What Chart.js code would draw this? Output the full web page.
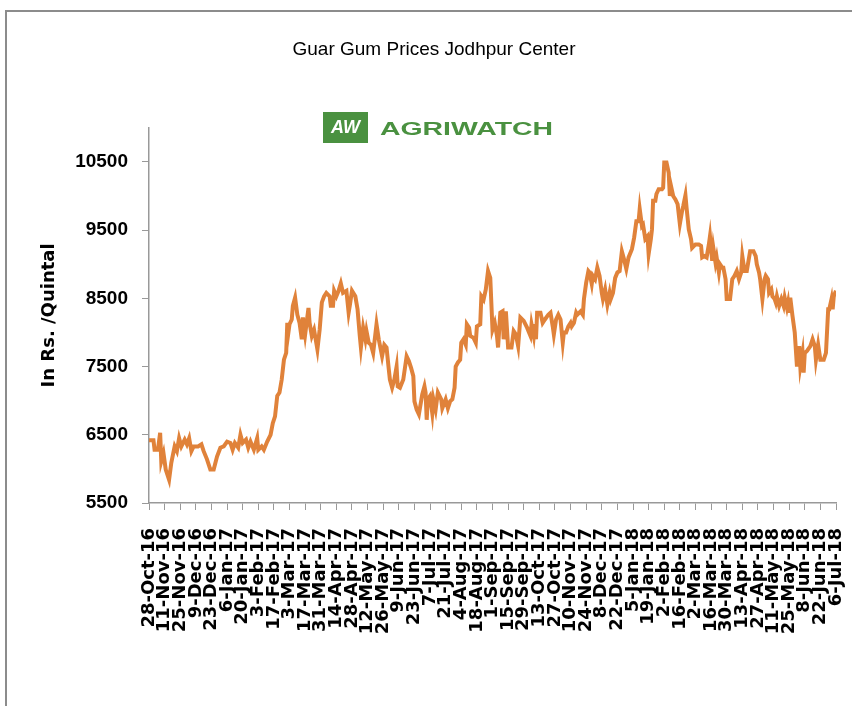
<!DOCTYPE html>
<html>
<head>
<meta charset="utf-8">
<script src="https://cdn.jsdelivr.net/npm/chart.js@4"></script>
<style>
  html, body { margin: 0; padding: 0; background: #fff; overflow: hidden; }
  #frame { position: absolute; left: 5px; top: 10px; width: 900px; height: 760px; border-left: 2px solid #8c8c8c; border-top: 2px solid #8c8c8c; }
  #myChart { position: absolute; left: 0; top: 0; }
</style>
</head>
<body>
<div id="frame"></div>
<canvas id="myChart" width="852" height="706"></canvas>
<script>
// days counted from 28-Oct-16
var days = [0, 4, 5, 8, 10, 11, 13, 15, 18, 20, 23, 25, 27, 29, 32, 34, 36, 38, 40, 44,
  47, 49, 52, 55, 58, 61, 64, 67, 70, 73, 75, 77, 80, 82, 84, 87, 89, 91, 94, 97,
  98, 101, 103, 106, 109, 111, 113, 115, 117, 119, 121, 123, 124, 125, 126, 128, 129, 131, 133, 135,
  137, 138, 140, 143, 144, 146, 148, 151, 153, 155, 157, 159, 162, 163, 165, 166, 168, 170, 172, 174,
  177, 179, 180, 182, 185, 187, 189, 190, 192, 194, 195, 197, 199, 201, 204, 206, 209, 211, 213, 215,
  216, 218, 220, 222, 223, 225, 228, 231, 233, 235, 237, 238, 240, 242, 245, 247, 248, 249, 250, 252,
  254, 255, 257, 259, 262, 263, 266, 268, 270, 272, 274, 275, 277, 279, 280, 282, 284, 285, 287, 288,
  291, 293, 294, 297, 298, 300, 302, 304, 306, 308, 310, 312, 313, 315, 317, 318, 320, 322, 325, 327,
  329, 331, 333, 336, 339, 342, 343, 345, 346, 347, 348, 351, 353, 355, 358, 360, 362, 363, 365, 367,
  369, 371, 372, 374, 376, 378, 379, 381, 383, 384, 387, 389, 390, 392, 394, 395, 397, 398, 400, 402,
  404, 406, 407, 409, 411, 413, 414, 416, 418, 420, 422, 424, 426, 428, 430, 433, 435, 437, 439, 440,
  442, 443, 445, 447, 448, 450, 451, 452, 454, 455, 457, 460, 461, 462, 464, 466, 467, 468, 470, 472,
  474, 476, 478, 479, 481, 482, 484, 486, 487, 490, 493, 495, 496, 498, 500, 502, 503, 505, 506, 508,
  509, 511, 512, 514, 515, 517, 518, 521, 523, 525, 527, 529, 531, 532, 534, 536, 539, 542, 544, 545,
  547, 548, 550, 552, 553, 555, 556, 558, 559, 561, 562, 563, 565, 567, 569, 570, 572, 573, 574, 575,
  577, 579, 580, 581, 582, 583, 584, 586, 587, 588, 590, 593, 595, 597, 598, 600, 602, 605, 607, 609,
  610, 612, 613, 614, 616];

var prices = [6420, 6420, 6280, 6280, 6530, 6110, 6230, 5990, 5840, 6090, 6330, 6260, 6450, 6330, 6430, 6360, 6450, 6260, 6330, 6330,
  6360, 6260, 6140, 5990, 5990, 6180, 6310, 6330, 6400, 6380, 6280, 6380, 6310, 6500, 6380, 6430, 6310, 6400, 6280, 6450,
  6280, 6330, 6280, 6400, 6500, 6670, 6770, 7070, 7120, 7310, 7600, 7700, 8140, 8000, 8120, 8190, 8390, 8510, 8260, 8140,
  7900, 8220, 7970, 8360, 8140, 7950, 8040, 7750, 8040, 8440, 8530, 8580, 8530, 8390, 8390, 8610, 8530, 8610, 8720, 8580,
  8610, 8290, 8390, 8610, 8530, 8340, 7950, 7780, 8070, 7900, 8020, 7850, 7820, 7700, 8120, 7900, 7650, 7820, 7780, 7460,
  7310, 7190, 7310, 7500, 7210, 7190, 7310, 7650, 7580, 7480, 7360, 6990, 6870, 6800, 7090, 7210, 7120, 6720, 7020, 7070,
  6820, 7020, 6870, 7120, 7020, 6890, 7020, 6890, 6990, 7020, 7190, 7500, 7560, 7600, 7850, 7900, 7820, 8120, 8070, 7950,
  7920, 7850, 8090, 8120, 8530, 8480, 8630, 8900, 8800, 8040, 8140, 7950, 7780, 8290, 8310, 7900, 8310, 7780, 7780, 8020,
  7970, 7800, 8220, 8170, 8070, 7950, 8120, 7950, 8120, 7900, 8290, 8290, 8140, 8190, 8260, 8290, 8090, 7970, 8190, 8260,
  8190, 7850, 8000, 8000, 8090, 8140, 8090, 8140, 8290, 8260, 8310, 8260, 8490, 8730, 8900, 8880, 8710, 8830, 8780, 8950,
  8830, 8580, 8490, 8630, 8410, 8580, 8490, 8580, 8800, 8880, 8900, 9190, 9070, 8930, 9100, 9220, 9390, 9630, 9630, 9810,
  9560, 9580, 9370, 9410, 9150, 9370, 9510, 9930, 9930, 10030, 10100, 10100, 10120, 10490, 10490, 10340, 10000, 10150, 10000, 9950,
  9880, 9590, 9780, 9850, 10010, 9830, 9510, 9370, 9240, 9290, 9290, 9270, 9100, 9120, 9100, 9290, 9410, 9050, 9240, 9020,
  9100, 8880, 9000, 8950, 8950, 8780, 8490, 8490, 8780, 8830, 8900, 8780, 8880, 9120, 8900, 8900, 9190, 9190, 9120, 9000,
  8880, 8780, 8490, 8780, 8830, 8780, 8580, 8630, 8530, 8490, 8440, 8530, 8390, 8490, 8390, 8510, 8360, 8440, 8290, 8510,
  8240, 8000, 7750, 7500, 7650, 7800, 7500, 7700, 7410, 7700, 7730, 7800, 7900, 7800, 7600, 7820, 7600, 7600, 7700, 8340,
  8340, 8490, 8340, 8530, 8610];

var tickLabels = ['28-Oct-16', '11-Nov-16', '25-Nov-16', '9-Dec-16', '23-Dec-16', '6-Jan-17', '20-Jan-17', '3-Feb-17',
  '17-Feb-17', '3-Mar-17', '17-Mar-17', '31-Mar-17', '14-Apr-17', '28-Apr-17', '12-May-17', '26-May-17', '9-Jun-17',
  '23-Jun-17', '7-Jul-17', '21-Jul-17', '4-Aug-17', '18-Aug-17', '1-Sep-17', '15-Sep-17', '29-Sep-17', '13-Oct-17',
  '27-Oct-17', '10-Nov-17', '24-Nov-17', '8-Dec-17', '22-Dec-17', '5-Jan-18', '19-Jan-18', '2-Feb-18', '16-Feb-18',
  '2-Mar-18', '16-Mar-18', '30-Mar-18', '13-Apr-18', '27-Apr-18', '11-May-18', '25-May-18', '8-Jun-18', '22-Jun-18',
  '6-Jul-18'];

var yTicks = [5500, 6500, 7500, 8500, 9500, 10500];

var points = days.map(function(d, i) { return { x: d, y: prices[i] }; });

var logoPlugin = {
  id: 'logo',
  afterDraw: function(chart) {
    var ctx = chart.ctx;
    ctx.save();
    ctx.fillStyle = '#4a9140';
    ctx.fillRect(323, 112, 45, 31);
    ctx.fillStyle = '#fff';
    ctx.font = 'italic bold 18px "Liberation Sans"';
    ctx.textAlign = 'center';
    ctx.textBaseline = 'middle';
    ctx.fillText('AW', 345.5, 128);
    ctx.fillStyle = '#4a9140';
    ctx.font = 'bold 18px "Liberation Sans"';
    ctx.textAlign = 'left';
    ctx.textBaseline = 'alphabetic';
    var w = ctx.measureText('AGRIWATCH').width;
    ctx.translate(380, 135);
    ctx.scale(173 / w, 1);
    ctx.fillText('AGRIWATCH', 0, 0);
    ctx.restore();
  }
};

var ctx = document.getElementById('myChart').getContext('2d');
var myChart = new Chart(ctx, {
  type: 'line',
  data: {
    datasets: [{
      label: 'Guar Gum',
      data: points,
      borderColor: '#E0823A',
      borderWidth: 4,
      pointRadius: 0,
      tension: 0,
      fill: false
    }]
  },
  options: {
    responsive: false,
    animation: false,
    layout: { padding: { left: 32, right: 16, top: 0, bottom: 0 } },
    plugins: {
      legend: { display: false },
      tooltip: { enabled: false },
      title: {
        display: true,
        text: 'Guar Gum Prices Jodhpur Center',
        color: '#000',
        font: { family: '"Liberation Sans", Arial', size: 19, weight: 'normal' },
        padding: { top: 38, bottom: 67 }
      }
    },
    scales: {
      x: {
        type: 'linear',
        min: 0,
        max: 616,
        afterBuildTicks: function(scale) {
          scale.ticks = tickLabels.map(function(t, i) { return { value: i * 14 }; });
        },
        afterFit: function(scale) {
          scale.height = 203;
          scale.paddingLeft = 0;
          scale.paddingRight = 0;
        },
        grid: { drawOnChartArea: false, tickLength: 7, color: '#999' },
        border: { color: '#999', width: 1.5 },
        ticks: {
          autoSkip: false,
          minRotation: 90,
          maxRotation: 90,
          padding: 18,
          color: '#000',
          font: { family: '"DejaVu Sans"', size: 18, weight: 'bold' },
          callback: function(v, i) { return tickLabels[i]; }
        }
      },
      y: {
        min: 5500,
        max: 11000,
        afterBuildTicks: function(scale) {
          scale.ticks = yTicks.map(function(v) { return { value: v }; });
        },
        afterFit: function(scale) {
          scale.width = 117;
          scale.paddingTop = 0;
          scale.paddingBottom = 0;
        },
        grid: { drawOnChartArea: false, tickLength: 7, color: '#999' },
        border: { color: '#999', width: 1.5 },
        ticks: {
          padding: 14,
          color: '#000',
          font: { family: '"Liberation Sans", Arial', size: 19, weight: 'bold' },
          callback: function(v) { return String(v); }
        },
        title: {
          display: true,
          text: 'In Rs. /Quintal',
          color: '#000',
          font: { family: '"DejaVu Sans"', size: 18, weight: 'bold' },
          padding: { top: 7, bottom: 0 }
        }
      }
    }
  },
  plugins: [logoPlugin]
});
</script>
</body>
</html>
